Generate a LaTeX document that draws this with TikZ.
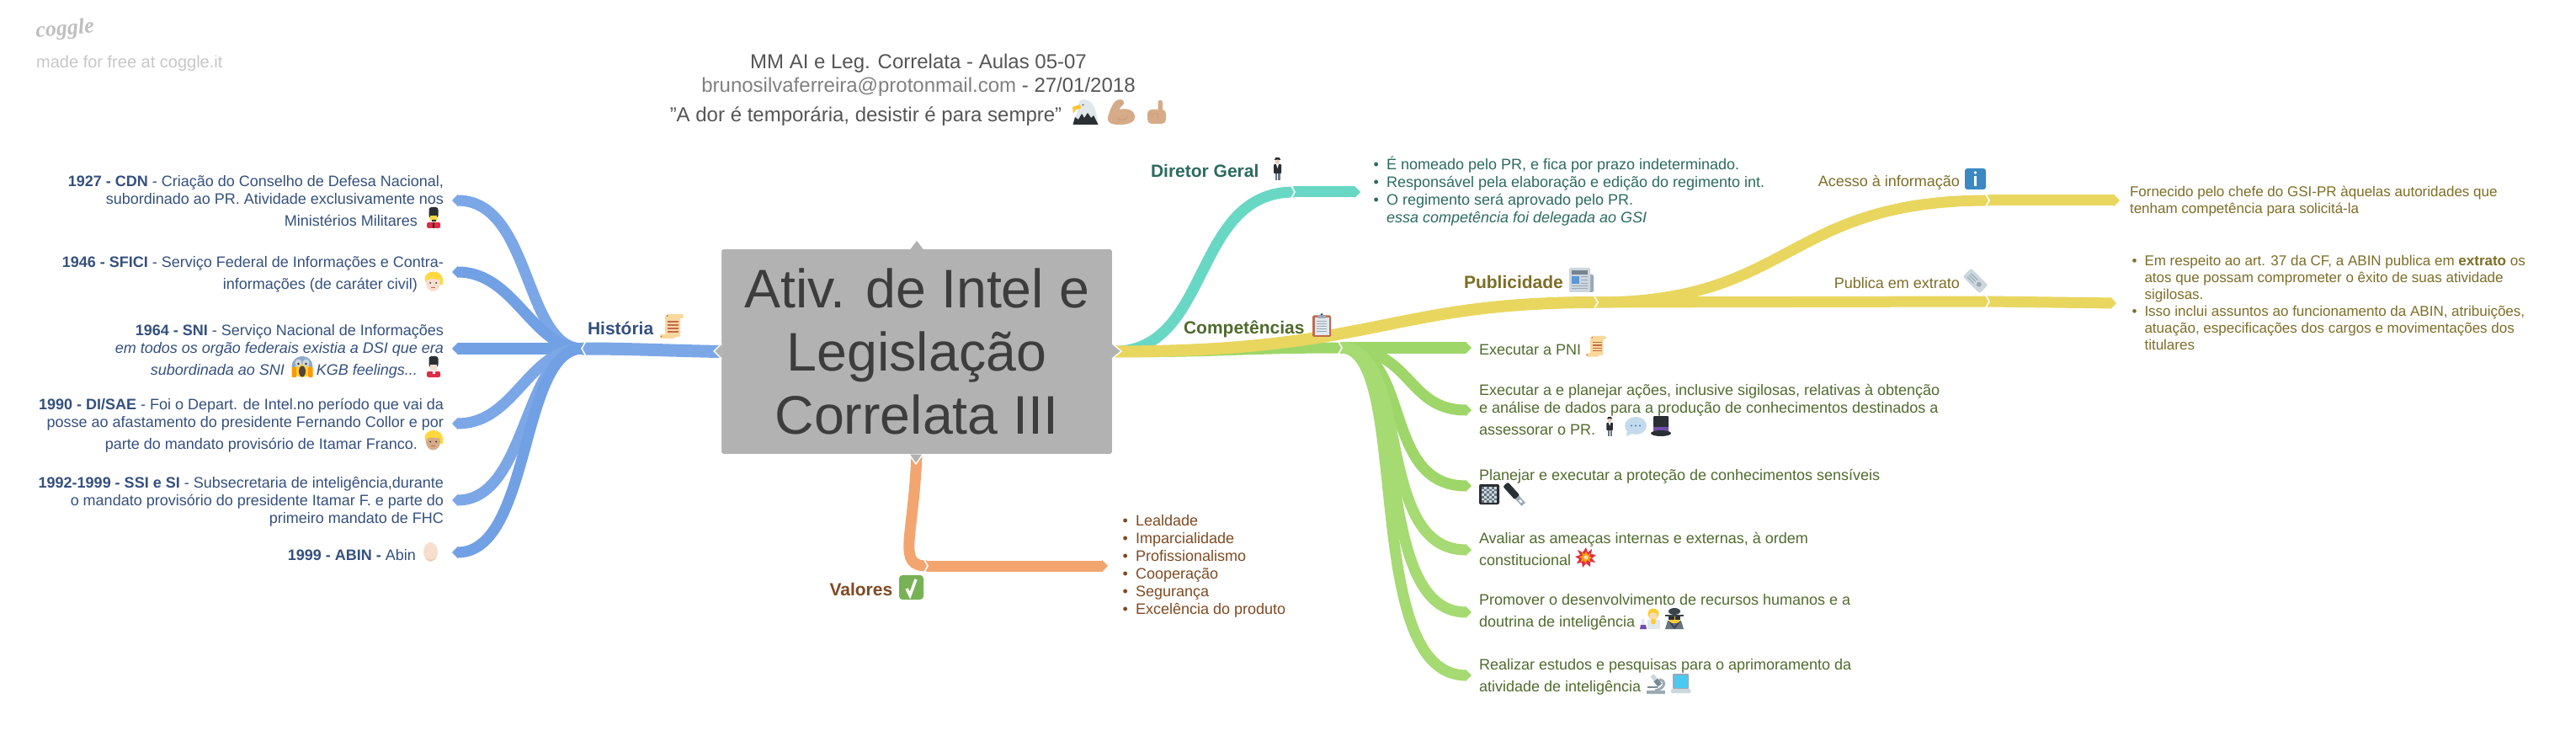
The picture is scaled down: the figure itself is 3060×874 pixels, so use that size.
\documentclass[tikz,border=0pt]{standalone}
\usepackage{fontspec}
\setmainfont{Liberation Sans}
\newfontfamily\cgl{Liberation Serif}
\usetikzlibrary{arrows.meta,calc}
\definecolor{cblue}{HTML}{7BA7E7}
\definecolor{cblueb}{HTML}{72A0E4}
\definecolor{tblue}{HTML}{34507F}
\definecolor{cteal}{HTML}{68D8C4}
\definecolor{tteal}{HTML}{2B6B5F}
\definecolor{cyel}{HTML}{E9D65F}
\definecolor{tyel}{HTML}{7D6E27}
\definecolor{cgrn}{HTML}{9FD66A}
\definecolor{cgrnb}{HTML}{A6DA72}
\definecolor{tgrn}{HTML}{506B2D}
\definecolor{corg}{HTML}{F2A56F}
\definecolor{torg}{HTML}{7F4A22}
\definecolor{dk}{HTML}{292F33}
\definecolor{gy}{HTML}{66757F}
\definecolor{gm}{HTML}{99AAB5}
\definecolor{gl}{HTML}{CCD6DD}
\definecolor{gx}{HTML}{E1E8ED}
\definecolor{skin}{HTML}{F7DECE}
\definecolor{tan}{HTML}{D5AB88}
\definecolor{yh}{HTML}{FFD83D}
\definecolor{scr}{HTML}{F9D89C}
\definecolor{scrb}{HTML}{C1694F}
\definecolor{rd}{HTML}{DD2E44}
\definecolor{infob}{HTML}{3B88C3}
\definecolor{chk}{HTML}{77B255}
\definecolor{vio}{HTML}{744EAA}
\definecolor{hgy}{HTML}{555555}
\newcommand\fl{\rule{0pt}{18pt}}
\newcommand\bul{\leavevmode\llap{•\hspace{9pt}}}
\newcommand\chevL[1]{\draw[chev] ([shift={(4,-9)}]#1) -- ([shift={(-1,0)}]#1) -- ([shift={(4,9)}]#1);}
\newcommand\chevR[1]{\draw[chev] ([shift={(-4,-9)}]#1) -- ([shift={(1,0)}]#1) -- ([shift={(-4,9)}]#1);}
\tikzset{
  txt/.style={inner sep=0pt,outer sep=0pt,font=\fontsize{18}{21}\selectfont},
  ttl/.style={inner sep=0pt,outer sep=0pt,font=\fontsize{21}{25}\selectfont\bfseries},
  rb/.style={line width=#1pt,line cap=butt},
  chev/.style={draw=white,line width=1.6pt,line join=miter},
  tip/.style={-{Triangle[length=7pt,width=#1pt]}},
  emscroll/.pic={
    \fill[scr,rounded corners=2pt] (6,1) rectangle (24,27);
    \fill[scr,rounded corners=2pt] (8,0) rectangle (28,5);
    \fill[scr,rounded corners=2pt] (0,24) rectangle (18,29);
    \foreach \q in {8,12,16,20} \fill[scrb] (9,\q) rectangle (22,\q+1.6);
    \fill[scrb] (8.5,2) circle (1);\fill[scrb] (1.5,26.5) circle (1);},
  emguard/.pic={
    \fill[dk,rounded corners=3pt] (2.5,0) rectangle (13.5,13);
    \fill[skin] (4,10) rectangle (12,16.5);
    \fill[rd,rounded corners=1.5pt] (0,18) rectangle (16,25);
    \fill[white] (6.5,17) rectangle (9.5,21);},
  emguardy/.pic={
    \fill[dk,rounded corners=3pt] (2.5,0) rectangle (13.5,13);
    \fill[yh] (4,10) rectangle (12,16.5);
    \fill[dk] (5.5,15.5) rectangle (10.5,17);
    \fill[rd,rounded corners=1.5pt] (0,18) rectangle (16,25);
    \fill[dk] (7,18) rectangle (9,25);},
  emblond/.pic={
    \fill[yh] (11,8) ellipse (10.5 and 8.5);
    \fill[yh] (19,7) rectangle (21.5,15);
    \fill[#1] (10.5,13) ellipse (8.5 and 10);
    \fill[yh] (2,6) .. controls (8,0) and (18,2) .. (20,9) .. controls (14,9) and (8,6) .. (2,10) -- cycle;
    \fill[dk] (7,13) circle (1);\fill[dk] (14,13) circle (1);
    \draw[scrb,line width=.8pt] (8,18) -- (13,18);},
  emegg/.pic={
    \fill[skin] (8.5,11.5) ellipse (8.5 and 11.5);
    \fill[skin!80!scrb] (2,18) .. controls (5,23.5) and (12,23.5) .. (15,18) .. controls (12,21.5) and (5,21.5) .. (2,18) -- cycle;},
  emscream/.pic={
    \fill[gm!60!cblue] (13,12) ellipse (12.5 and 12);
    \fill[yh!90!orange] (13,17) ellipse (10.5 and 8);
    \fill[gl] (8.5,8) ellipse (4 and 4.5);\fill[gl] (17.5,8) ellipse (4 and 4.5);
    \fill[dk] (8.5,9) circle (1.3);\fill[dk] (17.5,9) circle (1.3);
    \fill[dk!70!scrb] (13,18) ellipse (4 and 6.5);
    \fill[orange!80!yellow,rounded corners=1pt] (0.5,13) rectangle (6,25);
    \fill[orange!80!yellow,rounded corners=1pt] (20,13) rectangle (25.5,25);},
  emeagle/.pic={
    \fill[gx] (12,0) .. controls (22,0) and (26,8) .. (28,16) -- (31,30) -- (0,30) -- (6,14) -- (8,2) -- cycle;
    \fill[yh!80!orange] (9,6) -- (0,9) -- (1,17) -- (4,12) -- (10,11) -- cycle;
    \fill[dk] (0.5,30) -- (3,21) -- (7,24) -- (11,17) -- (14,22) -- (18,16) -- (22,22) -- (25,19) -- (30.5,30) -- cycle;
    \fill[dk] (12.5,6.5) circle (.9);},
  emmuscle/.pic={
    \fill[tan] (9,3) .. controls (13,-1) and (19,-1) .. (20,3) .. controls (21,7) and (15,8) .. (15,12) .. controls (25,10) and (33,13) .. (33,21) .. controls (33,28) and (24,30) .. (14,30) .. controls (4,30) and (0,27) .. (1,21) .. controls (3,15) and (5,8) .. (9,3) -- cycle;
    \draw[tan!75!scrb,line width=1.2pt] (12,22) .. controls (16,26) and (22,25) .. (25,20);
    \draw[tan!75!scrb,line width=1pt] (15,4) -- (18,6);},
  emfinger/.pic={
    \fill[tan,rounded corners=2.5pt] (14.5,0) rectangle (20,18);
    \fill[tan,rounded corners=5pt] (2,11) rectangle (24,28);
    \draw[tan!75!scrb,line width=.8pt] (3,16) -- (14,16) (14,16) -- (15,22) (8,16) -- (8,21);},
  emman/.pic={
    \fill[dk] (6,2.2) ellipse (4 and 1);\fill[dk] (3.5,0) rectangle (8.5,2);
    \fill[skin!70!tan] (6,5) circle (2.6);
    \fill[dk,rounded corners=1pt] (1.5,8) rectangle (10.5,19);
    \fill[white] (4.5,8) -- (7.5,8) -- (6,13) -- cycle;
    \fill[gy] (3,19) rectangle (5.5,27);\fill[gy] (6.5,19) rectangle (9,27);},
  emclip/.pic={
    \fill[scrb,rounded corners=1.5pt] (0,2.5) rectangle (22,28);
    \fill[gx] (2.5,5) rectangle (19.5,26);
    \fill[gm,rounded corners=1pt] (6,2) rectangle (16,6);
    \fill[dk] (11,1.3) circle (1.3);
    \foreach \q in {9,12,15,18,21} \fill[gm] (5,\q) rectangle (17,\q+1.3);},
  emnews/.pic={
    \fill[gm,rounded corners=2pt] (20,8) rectangle (29,29);
    \fill[gl,rounded corners=2pt] (0,0) rectangle (25,29);
    \fill[gy!70!gm] (3,3) rectangle (22,8);
    \fill[cblue!50!infob] (3,10) rectangle (12,19);
    \foreach \q in {10,14,18} \fill[gm] (14,\q) rectangle (22,\q+1.5);
    \foreach \q in {21,24} \fill[gm] (3,\q) rectangle (22,\q+1.5);},
  eminfo/.pic={
    \fill[infob,rounded corners=3pt] (0,0) rectangle (25,25);
    \fill[white] (12.5,5) circle (1.8);
    \fill[white] (11,9.5) rectangle (14,21);},
  emticket/.pic={
    \begin{scope}[shift={(12.5,12.5)},rotate=-45]
      \fill[gl,rounded corners=2pt] (-14,-7) rectangle (14,7);
      \foreach \q in {-3,0,3} \fill[gm] (-10,\q) rectangle (1,\q+1);
      \fill[gm] (6,0) circle (3);
    \end{scope}},
  emcheck/.pic={
    \fill[chk,rounded corners=4pt] (0,0) rectangle (29,29);
    \draw[white,line width=3.5pt] (9,16) -- (13,24) -- (20,5);},
  embubble/.pic={
    \fill[infob!30] (13,10.5) ellipse (13 and 10.5);
    \fill[infob!30] (3,15) -- (2,23) -- (11,19) -- cycle;
    \foreach \q in {8,13,18} \fill[infob] (\q,10.5) circle (1.2);},
  emhat/.pic={
    \fill[dk,rounded corners=1pt] (3,0) rectangle (21,19);
    \fill[vio] (3,13) rectangle (21,19);
    \fill[dk] (12,20.5) ellipse (12 and 3.5);},
  embook/.pic={
    \fill[dk,rounded corners=2pt] (0,0) rectangle (24,24);
    \fill[gl] (3,3) rectangle (21,22);
    \foreach \i in {0,...,5} \foreach \j in {0,...,6} {
      \pgfmathparse{int(mod(\i+\j,2))}
      \ifnum\pgfmathresult=0 \fill[gy] (3+3*\i,3+2.7*\j) rectangle (6+3*\i,5.7+2.7*\j);\fi}},
  emusb/.pic={
    \begin{scope}[shift={(13,12)},rotate=-48]
      \fill[dk,rounded corners=2pt] (-16,-4) rectangle (5,4);
      \fill[gm] (5,-3) rectangle (16,3);
      \fill[white] (9,-1.2) rectangle (13,1.2);
    \end{scope}},
  emboom/.pic={
    \fill[rd] (13,0)--(15,6)--(20,2)--(19,8)--(25,9)--(20,13)--(24,18)--(18,17)--(18,23)--(13,19)--(9,24)--(8,18)--(2,19)--(5,14)--(0,11)--(6,9)--(3,3)--(9,6)--cycle;
    \fill[orange!75!yellow] (13,5)--(15,9)--(18,7)--(17,11)--(20,12)--(17,14)--(18,17)--(14,15)--(13,19)--(10,16)--(7,17)--(8,13)--(5,11)--(9,10)--(8,6)--(11,8)--cycle;
    \fill[skin] (13,12) circle (2.5);},
  emsci/.pic={
    \fill[gx] (9,13) rectangle (24,24);
    \fill[yh!85!orange] (16,6) ellipse (6.5 and 6.5);
    \fill[skin!80!yh] (16,9) ellipse (5 and 5);
    \fill[yh!85!orange] (16,15) ellipse (3 and 3.5);
    \fill[gx] (2,12) -- (5,12) -- (5,16) -- (8,24) -- (0,24) -- (2,16) -- cycle;
    \fill[vio] (0,24) -- (1,19) -- (7,19) -- (8,24) -- cycle;},
  emspy/.pic={
    \fill[gy] (0,24) -- (3,14) -- (19,14) -- (22,24) -- cycle;
    \fill[dk!70!gy] (11,3) ellipse (7 and 4);\fill[dk!70!gy] (0,7) rectangle (22,9);
    \fill[yh!85!orange] (5,9) rectangle (17,17);
    \fill[dk] (4,9) rectangle (10.5,13);\fill[dk] (11.5,9) rectangle (18,13);
    \fill[dk!70!gy] (8,17) -- (11,21) -- (14,17) -- (18,15) -- (11,24) -- (4,15) -- cycle;},
  emscope/.pic={
    \fill[gm] (0,20) rectangle (22,24);
    \draw[gm,line width=3pt] (10,20) .. controls (22,18) and (24,8) .. (15,7);
    \begin{scope}[shift={(12,9)},rotate=38]
      \fill[gl] (-2.5,-9) rectangle (2.5,-2);
      \fill[gy!60!gm] (-3,-2) rectangle (3,6);
    \end{scope}
    \fill[gy!60!gm] (1,15) rectangle (13,17);},
  emlap/.pic={
    \fill[gm,rounded corners=1pt] (2,0) rectangle (21,18);
    \fill[cblue!60!cyan] (3.5,1.5) rectangle (19.5,16.5);
    \fill[gl,rounded corners=1pt] (0,18) rectangle (23,23);},
}
\begin{document}
\begin{tikzpicture}[x=1pt,y=-1pt]
\useasboundingbox (0,0) rectangle (3060,874);
\fill[white] (0,0) rectangle (3060,874);
% named points
\coordinate (hh) at (692,414);
\foreach \n/\y in {e1/238,e2/323,e3/414,e4/503,e5/594,e6/656} \coordinate (\n) at (537,\y);
\coordinate (dg) at (1537,228);   \coordinate (dgt) at (1616,228);
\coordinate (cp) at (1593,413);
\foreach \n/\y in {g1/413,g2/487,g3/577,g4/653,g5/727,g6/802} \coordinate (\n) at (1748,\y);
\coordinate (pb) at (1897,359);
\coordinate (ac) at (2362,238);   \coordinate (act) at (2518,238);
\coordinate (pe) at (2362,358);   \coordinate (pet) at (2514,360);
\coordinate (vl) at (1101,672);   \coordinate (vlt) at (1316,672);
% main box first so that ribbons can use its anchors
\node[draw=white,line width=1pt,fill=black!30,rounded corners=3pt,minimum width=465pt,minimum height=244pt,inner sep=0pt,align=center,text=black!76,font=\fontsize{64.5}{75}\selectfont] (main) at (1089,417.5) {Ativ. de Intel e\\Legislação\\Correlata III};
% ribbons: blue
\draw[rb=15,cblue] (main.west) .. controls +(-60,-1) and +(60,0) .. (hh);
\draw[rb=13,cblue,tip=14] (hh) .. controls +(-70,0) and +(95,0) .. (e1);
\draw[rb=13,cblueb,tip=14] (hh) .. controls +(-60,0) and +(75,0) .. (e2);
\draw[rb=13,cblueb,tip=14] (hh) -- (e3);
\draw[rb=13,cblue,tip=14] (hh) .. controls +(-65,0) and +(75,0) .. (e4);
\draw[rb=13,cblue,tip=14] (hh) .. controls +(-70,0) and +(90,0) .. (e5);
\draw[rb=13,cblueb,tip=14] (hh) .. controls +(-75,0) and +(95,0) .. (e6);
\chevL{hh}
% teal
\draw[rb=13,cteal] (main.east) .. controls +(118,0) and +(-122,0) .. (dg);
\draw[rb=13,cteal,tip=14] (dg) -- (dgt);
\chevR{dg}
% green
\draw[rb=13,cgrn] (main.east) .. controls +(120,1) and +(-120,0) .. (cp);
\draw[rb=13,cgrn,tip=14] (cp) -- (g1);
\draw[rb=13,cgrn,tip=14] (cp) .. controls +(85,0) and +(-78,0) .. (g2);
\draw[rb=13,cgrn,tip=14] (cp) .. controls +(85,0) and +(-108,0) .. (g3);
\draw[rb=13,cgrnb,tip=14] (cp) .. controls +(85,0) and +(-118,0) .. (g4);
\draw[rb=13,cgrnb,tip=14] (cp) .. controls +(85,0) and +(-123,0) .. (g5);
\draw[rb=13,cgrnb,tip=14] (cp) .. controls +(85,0) and +(-133,0) .. (g6);
\chevR{cp}
% yellow
\draw[rb=14,cyel] (main.east) .. controls +(315,0) and +(-250,0) .. (pb);
\draw[rb=13,cyel] (pb) .. controls +(233,0) and +(-242,0) .. (ac);
\draw[rb=13,cyel,tip=14] (ac) -- (act);
\draw[rb=13,cyel] (pb) -- (pe);
\draw[rb=13,cyel,tip=14] (pe) -- (pet);
\chevR{pb}\chevR{ac}\chevR{pe}
% orange
\draw[rb=13,corg] (main.south) .. controls +(-4,100) and +(-36,0) .. (vl);
\draw[rb=13,corg,tip=14] (vl) -- (vlt);
\chevR{vl}
% main box tabs
\fill[black!30] (1081,296.5) -- (1089,286) -- (1097,296.5) -- cycle;
\filldraw[fill=black!30,draw=white,line width=1.4pt] (857,408) -- (848,417) -- (857,426);
\filldraw[fill=black!30,draw=white,line width=1.4pt] (1321,408) -- (1332,417) -- (1321,426);
\filldraw[fill=black!30,draw=white,line width=1.4pt] (1080,539.5) -- (1088,551) -- (1096,539.5);
% watermark
\node[inner sep=0pt,anchor=base west,text=black!25,rotate=5,font=\cgl\itshape\bfseries\fontsize{26}{26}\selectfont] (cog) at (43,45) {coggle};
\node[inner sep=0pt,anchor=base west,text=black!22,font=\fontsize{20}{24}\selectfont] (made) at (43,81) {made for free at coggle.it};
% heading
\node[inner sep=0pt,anchor=north,align=center,text=hgy,font=\fontsize{24}{28}\selectfont] (head) at (1091,81-20) {\rule{0pt}{20pt}MM AI e Leg. Correlata - Aulas 05-07\\{\color{black!50}brunosilvaferreira@protonmail.com} - 27/01/2018\\[7pt]"A dor é temporária, desistir é para sempre"\hspace*{125pt}};
\pic at (1274,118) {emeagle};\pic at (1315,118) {emmuscle};\pic at (1361,119) {emfinger};
% left
\begin{scope}[every node/.append style={txt,anchor=north east,align=right,text=tblue}]
\node (t1) at (527,221.5-18) {\fl\textbf{1927 - CDN} - Criação do Conselho de Defesa Nacional,\\subordinado ao PR. Atividade exclusivamente nos\\[5pt]Ministérios Militares\hspace*{31pt}};
\node (t2) at (527,317.5-18) {\fl\textbf{1946 - SFICI} - Serviço Federal de Informações e Contra-\\[5pt]informações (de caráter civil)\hspace*{31pt}};
\node (t3) at (527,398.5-18) {\fl\textbf{1964 - SNI} - Serviço Nacional de Informações\\\textit{em todos os orgão federais existia a DSI que era}\\[5pt]\textit{subordinada ao SNI}\hspace*{38pt}\textit{KGB feelings...}\hspace*{31pt}};
\node (t4) at (527,486.5-18) {\fl\textbf{1990 - DI/SAE} - Foi o Depart. de Intel.no período que vai da\\posse ao afastamento do presidente Fernando Collor e por\\[5pt]parte do mandato provisório de Itamar Franco.\hspace*{31pt}};
\node (t5) at (527,579.5-18) {\fl\textbf{1992-1999 - SSI e SI} - Subsecretaria de inteligência,durante\\o mandato provisório do presidente Itamar F. e parte do\\primeiro mandato de FHC};
\node (t6) at (527,665.5-18) {\fl\textbf{1999 - ABIN -} Abin\hspace*{33pt}};
\end{scope}
\node[ttl,anchor=base west,text=tblue] (hist) at (698,398) {História};
\pic at (784,373) {emscroll};
\pic at (507,246) {emguardy};\pic at (504,323) {emblond=skin};
\pic at (346,423) {emscream};\pic at (507,423) {emguard};
\pic at (504,511.5) {emblond=tan};\pic at (503,644) {emegg};
% teal text
\node[ttl,anchor=base west,text=tteal] (dir) at (1367,210.5) {Diretor Geral};
\pic at (1511.5,187) {emman};
\node[txt,anchor=north west,align=left,text=tteal] (dl) at (1647,202-18) {\fl\bul É nomeado pelo PR, e fica por prazo indeterminado.\\\bul Responsável pela elaboração e edição do regimento int.\\\bul O regimento será aprovado pelo PR.\\\textit{essa competência foi delegada ao GSI}};
% competencias
\node[ttl,anchor=base west,text=tgrn] (comp) at (1406,396) {Competências};
\pic at (1559,372) {emclip};
\begin{scope}[every node/.append style={txt,anchor=north west,align=left,text=tgrn}]
\node (c1) at (1757,421.5-18) {\fl Executar a PNI};
\node (c2) at (1757,469-18) {\fl Executar a e planejar ações, inclusive sigilosas, relativas à obtenção\\e análise de dados para a produção de conhecimentos destinados a\\[5pt]assessorar o PR.};
\node (c3) at (1757,570-18) {\fl Planejar e executar a proteção de conhecimentos sensíveis};
\node (c4) at (1757,645-18) {\fl Avaliar as ameaças internas e externas, à ordem\\[5pt]constitucional};
\node (c5) at (1757,718-18) {\fl Promover o desenvolvimento de recursos humanos e a\\[5pt]doutrina de inteligência};
\node (c6) at (1757,795-18) {\fl Realizar estudos e pesquisas para o aprimoramento da\\[5pt]atividade de inteligência};
\end{scope}
\pic[scale=.85] at (1884,399) {emscroll};
\pic[scale=.85] at (1907,495) {emman};\pic at (1930,495) {embubble};\pic at (1961,494) {emhat};
\pic at (1757,575) {embook};\pic at (1786,575) {emusb};
\pic at (1871,650) {emboom};
\pic at (1948,723) {emsci};\pic at (1978,723) {emspy};
\pic at (1956,800) {emscope};\pic at (1985,800) {emlap};
% publicidade
\node[ttl,anchor=base west,text=tyel] (pub) at (1739,342.5) {Publicidade};
\pic at (1864,318) {emnews};
\node[txt,anchor=base east,text=tyel] (acc) at (2328,221.5) {Acesso à informação};
\pic at (2334,200) {eminfo};
\node[txt,anchor=base east,text=tyel] (pex) at (2328,343) {Publica em extrato};
\pic at (2334,321) {emticket};
\node[txt,anchor=north west,align=left,text=tyel,font=\fontsize{17}{20}\selectfont] (forn) at (2530,233.3-18) {\fl Fornecido pelo chefe do GSI-PR àquelas autoridades que\\tenham competência para solicitá-la};
\node[txt,anchor=north west,align=left,text=tyel,font=\fontsize{17}{20}\selectfont] (ext) at (2547.5,315.3-18) {\fl\bul Em respeito ao art. 37 da CF, a ABIN publica em \textbf{extrato} os\\atos que possam comprometer o êxito de suas atividade\\sigilosas.\\\bul Isso inclui assuntos ao funcionamento da ABIN, atribuições,\\atuação, especificações dos cargos e movimentações dos\\titulares};
% valores
\node[ttl,anchor=base west,text=torg] (val) at (985.5,707.5) {Valores};
\pic at (1068,683) {emcheck};
\node[txt,anchor=north west,align=left,text=torg] (vall) at (1349,624.3-18) {\fl\bul Lealdade\\\bul Imparcialidade\\\bul Profissionalismo\\\bul Cooperação\\\bul Segurança\\\bul Excelência do produto};
\end{tikzpicture}
\end{document}
